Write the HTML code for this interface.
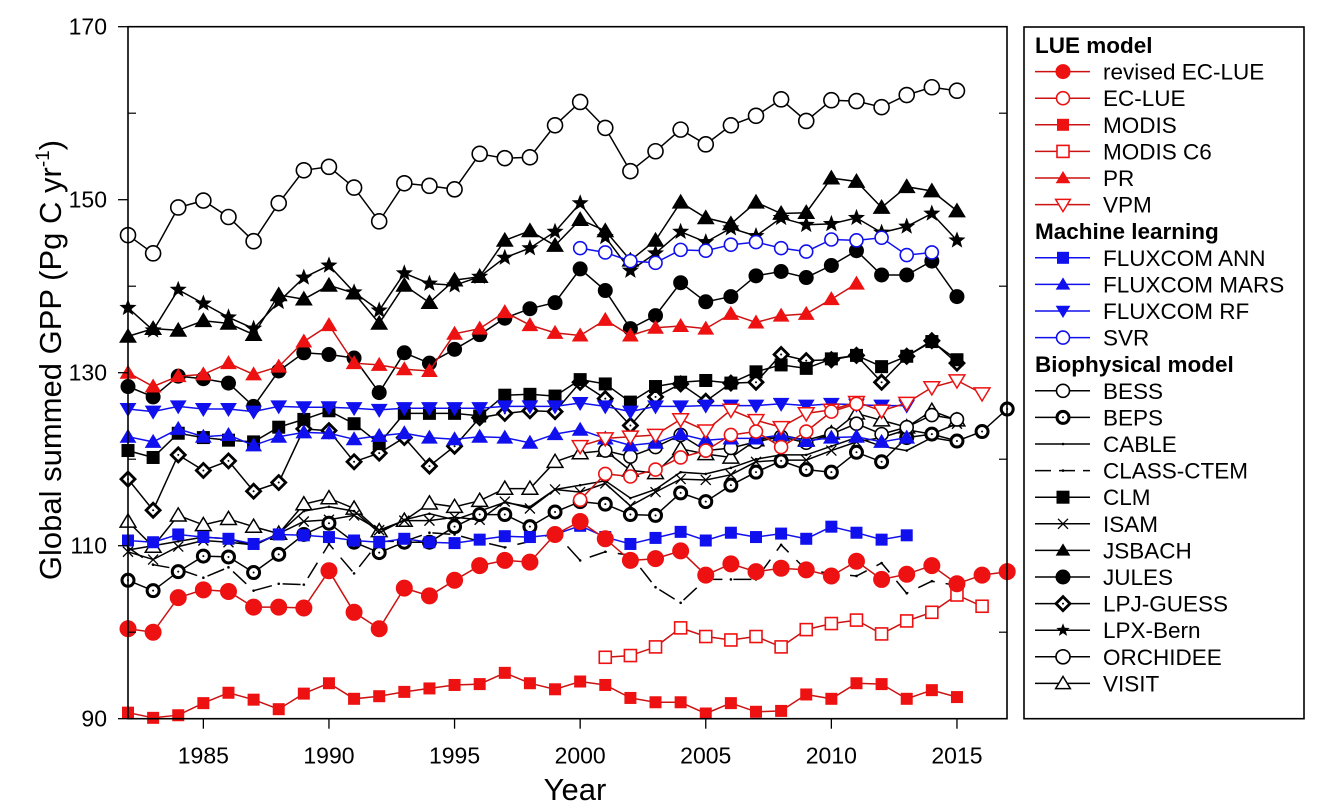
<!DOCTYPE html>
<html><head><meta charset="utf-8"><style>
html,body{margin:0;padding:0;background:#fff;}
svg{display:block;font-family:"Liberation Sans",Arial,sans-serif;}
</style></head><body>
<svg id="chart" width="1322" height="812" viewBox="0 0 1322 812" xmlns="http://www.w3.org/2000/svg">
<g id="plot"></g>
<g id="axes"></g>
<g id="legend"></g>
</svg>
<script>
// ---- data (Pg C / yr) ----
const revisedEcLueStart = 1982;
const revisedEcLue = [100.4,100.0,104.0,104.9,104.7,102.9,102.9,102.8,107.1,102.3,100.4,105.1,104.2,106.0,107.7,108.3,108.1,111.3,112.8,110.8,108.3,108.5,109.4,106.6,107.9,107.0,107.4,107.2,106.5,108.2,106.1,106.7,107.7,105.6,106.6,107.0];
const ecLueStart = 2000;
const ecLue = [115.3,118.3,118.0,118.8,120.2,121.0,122.8,123.2,121.4,123.2,125.5,126.4];
const modisStart = 1982;
const modis = [90.7,90.1,90.4,91.8,93.0,92.2,91.1,92.9,94.1,92.3,92.6,93.1,93.5,93.9,94.0,95.3,94.1,93.4,94.3,93.9,92.4,91.9,91.9,90.6,91.8,90.8,90.9,92.8,92.3,94.1,94.0,92.3,93.3,92.5];
const modisC6Start = 2001;
const modisC6 = [97.1,97.3,98.3,100.5,99.5,99.1,99.5,98.3,100.3,101.0,101.4,99.8,101.3,102.3,104.3,103.0];
const prStart = 1982;
const pr = [130.0,128.4,129.6,129.8,131.1,129.8,130.7,133.6,135.5,131.1,130.9,130.4,130.2,134.5,135.1,137.0,135.5,134.6,134.3,136.1,134.3,135.2,135.4,135.1,136.8,135.8,136.6,136.8,138.5,140.3];
const vpmStart = 2000;
const vpm = [121.5,122.4,122.6,122.8,124.6,123.3,125.7,124.5,123.7,125.3,125.7,126.6,125.6,126.5,128.3,129.1,127.6];
const annStart = 1982;
const fluxcomAnn = [110.6,110.4,111.3,111.0,110.8,110.2,111.3,111.2,111.0,110.6,110.4,110.8,110.4,110.3,110.7,111.1,111.0,111.3,112.3,111.0,110.2,110.9,111.6,110.6,111.5,111.0,111.4,110.8,112.2,111.5,110.7,111.2];
const marsStart = 1982;
const fluxcomMars = [122.6,122.0,123.5,122.6,122.8,121.6,122.6,123.1,123.0,122.3,122.7,123.0,122.5,122.3,122.6,122.5,121.9,122.9,123.4,122.4,121.6,121.9,122.9,122.2,122.4,122.4,122.8,122.1,122.5,122.6,122.0,122.5];
const rfStart = 1982;
const fluxcomRf = [125.8,125.5,126.1,125.8,125.8,125.5,126.1,126.0,126.0,125.9,125.7,125.9,125.9,125.9,125.9,126.1,126.1,126.1,126.5,126.1,125.5,126.1,126.1,126.2,126.2,126.2,126.4,126.2,126.4,126.3,126.2,126.2];
const svrStart = 2000;
const svr = [144.4,143.9,142.9,142.7,144.2,144.1,144.8,145.1,144.4,144.0,145.4,145.3,145.6,143.6,143.9];
const bessStart = 2001;
const bess = [121.0,120.3,121.4,122.8,121.0,121.3,122.0,122.6,121.9,122.9,124.1,122.9,123.7,125.1,124.6];
const bepsStart = 1982;
const beps = [106.0,104.8,107.0,108.8,108.7,106.9,109.0,111.3,112.6,110.4,109.2,110.4,110.4,112.2,113.6,113.6,112.2,113.9,115.1,114.8,113.6,113.5,116.1,115.1,117.0,118.5,119.8,118.8,118.5,120.8,119.7,122.5,122.9,122.1,123.2,125.8];
const cableStart = 1982;
const cable = [109.5,110.0,110.5,111.0,110.8,110.0,111.4,114.0,114.5,114.0,111.5,113.0,113.7,113.0,114.0,115.0,114.5,116.5,117.0,117.5,115.5,116.5,118.5,118.3,119.0,120.0,120.5,120.5,121.5,122.5,121.5,121.0,122.5,122.0];
const classCtemStart = 1982;
const classCtem = [109.8,107.8,107.3,106.3,107.5,104.8,105.6,105.5,110.2,106.8,110.5,110.5,111.5,111.3,110.5,109.8,110.5,111.5,108.3,109.3,108.9,105.2,103.4,106.1,106.1,106.1,110.1,107.2,106.8,106.5,108.0,104.5,105.9,105.4];
const clmStart = 1982;
const clm = [121.0,120.2,123.0,122.5,122.2,122.0,123.7,124.6,125.6,124.1,121.8,125.3,125.3,125.3,125.0,127.4,127.5,127.3,129.2,128.7,126.6,128.4,128.9,129.1,128.8,130.1,130.9,130.5,131.6,132.0,130.7,131.9,133.6,131.5];
const isamStart = 1982;
const isam = [109.3,108.4,109.9,110.6,110.4,110.1,111.4,112.8,113.0,113.5,111.8,112.9,112.9,113.3,113.0,115.1,114.3,116.5,116.2,117.2,114.6,116.2,117.7,117.6,118.2,119.7,119.9,119.9,121.0,122.0,122.5,123.4,122.9,124.1];
const jsbachStart = 1982;
const jsbach = [134.2,135.1,134.9,136.0,135.7,134.4,139.0,138.5,140.1,139.2,135.7,140.1,138.1,140.7,141.1,145.3,146.4,144.7,147.7,146.4,143.0,145.3,149.7,147.9,147.2,149.7,148.4,148.5,152.5,152.1,149.1,151.5,151.0,148.7];
const julesStart = 1982;
const jules = [128.4,127.2,129.6,129.3,128.8,126.1,130.2,132.3,132.1,131.7,127.7,132.3,131.1,132.7,134.4,136.3,137.4,138.1,142.0,139.5,135.1,136.6,140.4,138.2,138.8,141.2,141.7,141.0,142.4,144.1,141.3,141.3,142.9,138.8];
const lpjStart = 1982;
const lpjGuess = [117.7,114.1,120.5,118.7,119.8,116.3,117.3,123.5,123.3,119.7,120.7,122.5,119.2,121.5,124.8,125.3,125.6,125.5,128.9,127.0,123.9,127.2,128.7,126.7,128.8,128.9,132.1,131.4,131.5,132.0,128.9,131.9,133.7,131.1];
const lpxStart = 1982;
const lpxBern = [137.5,134.9,139.6,138.0,136.4,135.1,138.2,141.0,142.4,139.3,137.2,141.5,140.3,140.1,141.1,143.3,144.4,146.3,149.6,145.7,141.8,143.8,146.3,145.1,146.7,145.8,147.9,147.1,147.2,147.9,146.2,146.9,148.4,145.3];
const orchStart = 1982;
const orchidee = [145.9,143.8,149.1,149.9,148.0,145.2,149.6,153.4,153.8,151.4,147.5,151.9,151.6,151.2,155.3,154.8,154.9,158.6,161.3,158.3,153.3,155.6,158.1,156.4,158.6,159.7,161.6,159.1,161.5,161.4,160.7,162.1,163.0,162.6];
const visitStart = 1982;
const visit = [112.8,109.9,113.5,112.4,113.1,112.2,111.4,114.8,115.5,114.3,111.7,112.9,114.9,114.5,115.2,116.6,116.6,119.7,120.7,121.0,118.7,118.4,121.2,120.6,120.2,122.2,122.8,122.2,123.0,125.3,124.5,123.7,125.6,124.5];
const yTicks = [90,110,130,150,170];
const yMinor = [100,120,140,160];
const xTicks = [1985,1990,1995,2000,2005,2010,2015];

// ---- scales ----
const X0=128, PX=25.12, Y0=26.7, PY=8.65, L=128, R=1007, T=26.7, B=718.7;
function sx(yr){return X0+(yr-1982)*PX;}
function sy(v){return Y0+(170-v)*PY;}
const NS="http://www.w3.org/2000/svg";
function mk(tag,attrs,parent){const e=document.createElementNS(NS,tag);for(const k in attrs)e.setAttribute(k,attrs[k]);parent.appendChild(e);return e;}
const RED="#ee1111", RLINE="#cc1111", BLUE="#1010ee", BLK="#000";

function marker(g,type,x,y,c,s){
  let e;
  if(type==='circleF') e=mk('circle',{cx:x,cy:y,r:s,fill:c,stroke:c,'stroke-width':1},g);
  else if(type==='circleO') e=mk('circle',{cx:x,cy:y,r:s,fill:'#fff',stroke:c,'stroke-width':1.6},g);
  else if(type==='circleDot'){e=mk('circle',{cx:x,cy:y,r:s,fill:'#fff',stroke:c,'stroke-width':3},g);mk('circle',{cx:x,cy:y,r:1,fill:c},g);}
  else if(type==='squareF') e=mk('rect',{x:x-s,y:y-s,width:2*s,height:2*s,fill:c},g);
  else if(type==='squareO') e=mk('rect',{x:x-s,y:y-s,width:2*s,height:2*s,fill:'#fff',stroke:c,'stroke-width':1.6},g);
  else if(type==='triF') e=mk('polygon',{points:`${x},${y-s} ${x-s*1.05},${y+s*0.75} ${x+s*1.05},${y+s*0.75}`,fill:c},g);
  else if(type==='triO') e=mk('polygon',{points:`${x},${y-s} ${x-s*1.05},${y+s*0.75} ${x+s*1.05},${y+s*0.75}`,fill:'#fff',stroke:c,'stroke-width':1.5},g);
  else if(type==='triDF') e=mk('polygon',{points:`${x},${y+s} ${x-s*1.05},${y-s*0.75} ${x+s*1.05},${y-s*0.75}`,fill:c},g);
  else if(type==='triDO') e=mk('polygon',{points:`${x},${y+s} ${x-s*1.05},${y-s*0.75} ${x+s*1.05},${y-s*0.75}`,fill:'#fff',stroke:c,'stroke-width':1.5},g);
  else if(type==='diamondDot'){e=mk('polygon',{points:`${x},${y-s} ${x+s},${y} ${x},${y+s} ${x-s},${y}`,fill:'#fff',stroke:c,'stroke-width':2.8},g);mk('circle',{cx:x,cy:y,r:1,fill:c},g);}
  else if(type==='x'){e=mk('path',{d:`M${x-s},${y-s}L${x+s},${y+s}M${x-s},${y+s}L${x+s},${y-s}`,stroke:c,'stroke-width':1.3,fill:'none'},g);}
  else if(type==='star'){let p=[];for(let i=0;i<10;i++){const a=-Math.PI/2+i*Math.PI/5,r=i%2?s*0.42:s;p.push((x+r*Math.cos(a)).toFixed(1)+','+(y+r*Math.sin(a)).toFixed(1));}e=mk('polygon',{points:p.join(' '),fill:c},g);}
  else if(type==='dot') e=mk('circle',{cx:x,cy:y,r:s,fill:c},g);
  return e;
}

const series=[
 {name:'revised EC-LUE',id:'revised-ec-lue',start:revisedEcLueStart,vals:revisedEcLue,m:'circleF',c:RED,lc:RLINE,s:8},
 {name:'EC-LUE',id:'ec-lue',start:ecLueStart,vals:ecLue,m:'circleO',c:RED,lc:RLINE,s:6.5},
 {name:'MODIS',id:'modis',start:modisStart,vals:modis,m:'squareF',c:RED,lc:RLINE,s:6},
 {name:'MODIS C6',id:'modis-c6',start:modisC6Start,vals:modisC6,m:'squareO',c:RED,lc:RLINE,s:6},
 {name:'PR',id:'pr',start:prStart,vals:pr,m:'triF',c:RED,lc:RLINE,s:8},
 {name:'VPM',id:'vpm',start:vpmStart,vals:vpm,m:'triDO',c:RED,lc:RLINE,s:7.5},
 {name:'FLUXCOM ANN',id:'fluxcom-ann',start:annStart,vals:fluxcomAnn,m:'squareF',c:BLUE,lc:BLUE,s:6},
 {name:'FLUXCOM MARS',id:'fluxcom-mars',start:marsStart,vals:fluxcomMars,m:'triF',c:BLUE,lc:BLUE,s:8},
 {name:'FLUXCOM RF',id:'fluxcom-rf',start:rfStart,vals:fluxcomRf,m:'triDF',c:BLUE,lc:BLUE,s:8},
 {name:'SVR',id:'svr',start:svrStart,vals:svr,m:'circleO',c:BLUE,lc:BLUE,s:6.5},
 {name:'BESS',id:'bess',start:bessStart,vals:bess,m:'circleO',c:BLK,lc:BLK,s:6.5},
 {name:'BEPS',id:'beps',start:bepsStart,vals:beps,m:'circleDot',c:BLK,lc:BLK,s:6},
 {name:'CABLE',id:'cable',start:cableStart,vals:cable,m:'dot',c:BLK,lc:BLK,s:1.3},
 {name:'CLASS-CTEM',id:'class-ctem',start:classCtemStart,vals:classCtem,m:'dot',c:BLK,lc:BLK,s:1.3,dash:'18,11'},
 {name:'CLM',id:'clm',start:clmStart,vals:clm,m:'squareF',c:BLK,lc:BLK,s:6.5},
 {name:'ISAM',id:'isam',start:isamStart,vals:isam,m:'x',c:BLK,lc:BLK,s:5},
 {name:'JSBACH',id:'jsbach',start:jsbachStart,vals:jsbach,m:'triF',c:BLK,lc:BLK,s:8.5},
 {name:'JULES',id:'jules',start:julesStart,vals:jules,m:'circleF',c:BLK,lc:BLK,s:7},
 {name:'LPJ-GUESS',id:'lpj-guess',start:lpjStart,vals:lpjGuess,m:'diamondDot',c:BLK,lc:BLK,s:7},
 {name:'LPX-Bern',id:'lpx-bern',start:lpxStart,vals:lpxBern,m:'star',c:BLK,lc:BLK,s:9},
 {name:'ORCHIDEE',id:'orchidee',start:orchStart,vals:orchidee,m:'circleO',c:BLK,lc:BLK,s:7.5},
 {name:'VISIT',id:'visit',start:visitStart,vals:visit,m:'triO',c:BLK,lc:BLK,s:7.5}
];

const plot=document.getElementById('plot');
const drawOrder=series.slice().reverse();
drawOrder.forEach(sr=>{
  const g=mk('g',{},plot);
  
  
  const pts=sr.vals.map((v,i)=>sx(sr.start+i).toFixed(1)+','+sy(v).toFixed(1)).join(' ');
  const ln=mk('polyline',{points:pts,fill:'none',stroke:sr.lc,'stroke-width':1.5},g);
  if(sr.dash) ln.setAttribute('stroke-dasharray',sr.dash);
  
  
  sr.vals.forEach((v,i)=>{
    const e=marker(g,sr.m,sx(sr.start+i),sy(v),sr.c,sr.s);
    
    
  });
});

// ---- axes ----
const ax=document.getElementById('axes');
const frame=mk('rect',{x:L,y:T,width:R-L,height:B-T,fill:'none',stroke:'#000','stroke-width':1.6},ax);


yTicks.forEach(v=>{
  mk('line',{x1:L-10,x2:L,y1:sy(v),y2:sy(v),stroke:'#000','stroke-width':1.3},ax);
  const t=mk('text',{x:L-21,y:sy(v)+8,'text-anchor':'end','font-size':23,fill:'#000'},ax);
  t.textContent=v;
  
  
});
yMinor.forEach(v=>{
  mk('line',{x1:L,x2:L+8,y1:sy(v),y2:sy(v),stroke:'#000','stroke-width':1.2},ax);
  mk('line',{x1:R-8,x2:R,y1:sy(v),y2:sy(v),stroke:'#000','stroke-width':1.2},ax);
});
xTicks.forEach(v=>{
  mk('line',{x1:sx(v),x2:sx(v),y1:B,y2:B+10,stroke:'#000','stroke-width':1.3},ax);
  const t=mk('text',{x:sx(v),y:B+45,'text-anchor':'middle','font-size':23,fill:'#000'},ax);
  t.textContent=v;
  
  
});
const xt=mk('text',{x:575,y:800,'text-anchor':'middle','font-size':31,fill:'#000'},ax);
xt.textContent='Year';


const yt=mk('text',{x:0,y:0,'text-anchor':'middle','font-size':31,fill:'#000',transform:'translate(61,360) rotate(-90)'},ax);
yt.innerHTML='Global summed GPP (Pg C yr<tspan dy="-12" font-size="19">-1</tspan><tspan dy="12">)</tspan>';



// ---- legend ----
const lg=document.getElementById('legend');
const box=mk('rect',{x:1024,y:27,width:280,height:691.7,fill:'#fff',stroke:'#000','stroke-width':1.6},lg);


const headers={0:'LUE model',6:'Machine learning',10:'Biophysical model'};
let row=0; const rowH=26.6, top0=45;
series.forEach((sr,i)=>{
  if(headers[i]!==undefined){
    const h=mk('text',{x:1035,y:top0+row*rowH+8,'font-size':22.5,'font-weight':'bold',fill:'#000'},lg);
    h.textContent=headers[i];
    
    
    row++;
  }
  const cy=top0+row*rowH;
  const g=mk('g',{},lg);
  
  
  const l=mk('line',{x1:1035,x2:1090,y1:cy,y2:cy,stroke:sr.lc,'stroke-width':1.5},g);
  if(sr.dash) l.setAttribute('stroke-dasharray','16,8');
  marker(g,sr.m,1063,cy,sr.c,Math.min(sr.s,7));
  const t=mk('text',{x:1103,y:cy+8,'font-size':22.5,fill:'#000'},g);
  t.textContent=sr.name;
  row++;
});
</script>
</body></html>
